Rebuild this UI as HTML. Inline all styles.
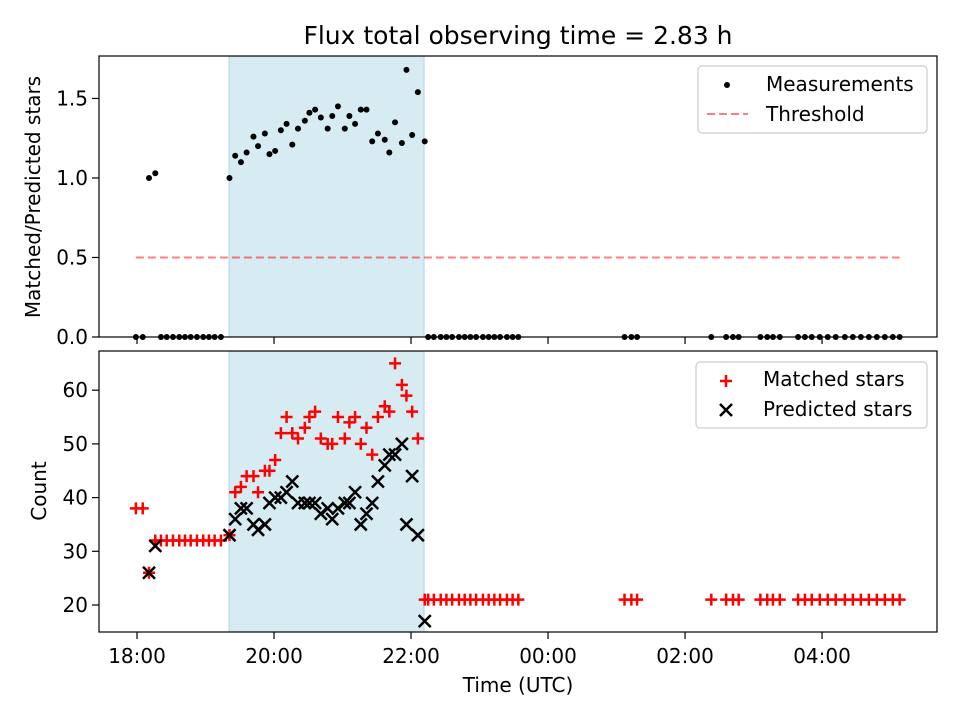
<!DOCTYPE html>
<html><head><meta charset="utf-8"><style>
html,body{margin:0;padding:0;background:#fff}
svg{display:block;font-family:"DejaVu Sans","Liberation Sans",sans-serif}
</style></head><body>
<svg id="fig" width="960" height="720" viewBox="0 0 960 720" xmlns="http://www.w3.org/2000/svg">
<rect width="960" height="720" fill="#fff"/>
<text x="518" y="44" font-size="25" text-anchor="middle">Flux total observing time = 2.83 h</text>
<g id="topPanel"></g>
<g id="botPanel"></g>
<text transform="translate(40,197) rotate(-90)" font-size="20" text-anchor="middle">Matched/Predicted stars</text>
<text transform="translate(46,491) rotate(-90)" font-size="20" text-anchor="middle">Count</text>
<text x="518" y="692" font-size="20" text-anchor="middle">Time (UTC)</text>
</svg>
<script>
// minutes since 18:00 UTC
const times = [-1,5,10.5,16, 21,26,31.5,37,42,47,52.5,58,63,68,73.5,
 81,86,91,96,102,106,112,116,121,126,131,136,141,147,151,156,161,167,171,176,182,186,191,196,201,206,211,217,221,226,232,236,241,246,252,
 255,260,266,271,276,282,287,292,297,303,308,313,318,324,329,334,
 427,433,438, 503,516,522,527, 546,552,557,563, 579,585,591,
 598,605,612,620,627,634,641,648,655,662,668];
const ratio = [0,0,1.00,1.03, 0,0,0,0,0,0,0,0,0,0,0,
 1.00,1.14,1.10,1.16,1.26,1.20,1.28,1.15,1.17,1.30,1.34,1.21,1.31,1.36,1.41,1.43,1.38,1.31,1.39,1.45,1.31,1.39,1.34,1.43,1.43,1.23,1.28,1.24,1.16,1.35,1.22,1.68,1.27,1.54,1.23,
 0,0,0,0,0,0,0,0,0,0,0,0,0,0,0,0, 0,0,0, 0,0,0,0, 0,0,0,0, 0,0,0, 0,0,0,0,0,0,0,0,0,0,0];
const matched = [38,38,26,32, 32,32,32,32,32,32,32,32,32,32,32,
 33,41,42,44,44,41,45,45,47,52,55,52,51,53,55,56,51,50,50,55,51,54,55,50,53,48,55,57,56,65,61,59,56,51,21,
 21,21,21,21,21,21,21,21,21,21,21,21,21,21,21,21, 21,21,21, 21,21,21,21, 21,21,21,21, 21,21,21, 21,21,21,21,21,21,21,21,21,21,21];
const predicted = [null,null,26,31, null,null,null,null,null,null,null,null,null,null,null,
 33,36,38,38,35,34,35,39,40,40,41,43,39,39,39,39,37,38,36,38,39,39,41,35,37,39,43,46,48,48,50,35,44,33,17,
 null,null,null,null,null,null,null,null,null,null,null,null,null,null,null,null, null,null,null, null,null,null,null, null,null,null,null, null,null,null, null,null,null,null,null,null,null,null,null,null,null];
const threshold = [0.5];
const observingSpan = [80.6, 251.4];
const xTickVals = [0,120,240,360,480,600];
const xTickLabels = ["18:00","20:00","22:00","00:00","02:00","04:00"];
const topTicks = [0,0.5,1.0,1.5];
const botTicks = [20,30,40,50,60];

const NS="http://www.w3.org/2000/svg";
const X0=99,X1=937, XMIN=-33.3, XMAX=700.7;
const sx=v=>X0+(v-XMIN)/(XMAX-XMIN)*(X1-X0);
const PT={y0:56,y1:337,min:0,max:1.767};
const PB={y0:351,y1:632,min:14.97,max:67.3};
const sy=(P,v)=>P.y1-(v-P.min)/(P.max-P.min)*(P.y1-P.y0);
function mk(parent,tag,attrs,text){const e=document.createElementNS(NS,tag);for(const k in attrs)e.setAttribute(k,attrs[k]);if(text!=null)e.textContent=text;parent.appendChild(e);return e;}

function frame(g,P,ticks,fmt,showXLabels){
  const sp=mk(g,'rect',{x:sx(observingSpan[0]),y:P.y0,width:sx(observingSpan[1])-sx(observingSpan[0]),height:P.y1-P.y0,fill:'#add8e6','fill-opacity':0.5,stroke:'#add8e6','stroke-width':1});
  
  
  ticks.forEach(v=>{const y=sy(P,v);
    const t=mk(g,'line',{x1:X0-7,x2:X0,y1:y,y2:y,stroke:'#000','stroke-width':1.2});
    
    
    const l=mk(g,'text',{x:X0-11,y:y+7,'font-size':20,'text-anchor':'end'},fmt(v));
    
    
  });
  xTickVals.forEach((v,i)=>{const x=sx(v);
    const t=mk(g,'line',{x1:x,x2:x,y1:P.y1,y2:P.y1+7,stroke:'#000','stroke-width':1.2});
    
    
    if(showXLabels){const l=mk(g,'text',{x:x,y:P.y1+31,'font-size':20,'text-anchor':'middle'},xTickLabels[i]);
      
      }
  });
}
function border(g,P){const r=mk(g,'rect',{x:X0,y:P.y0,width:X1-X0,height:P.y1-P.y0,fill:'none',stroke:'#000','stroke-width':1.2});
  
  }

const topG=document.getElementById('topPanel');
frame(topG,PT,topTicks,v=>v.toFixed(1),false);
const tmin=Math.min(...times),tmax=Math.max(...times);
const th=mk(topG,'line',{x1:sx(tmin),x2:sx(tmax),y1:sy(PT,threshold[0]),y2:sy(PT,threshold[0]),stroke:'#ff0000','stroke-opacity':0.5,'stroke-width':2,'stroke-dasharray':'8,4'});


times.forEach((t,i)=>{const c=mk(topG,'circle',{cx:sx(t),cy:sy(PT,ratio[i]),r:3,fill:'#000'});
  
  });
border(topG,PT);

const botG=document.getElementById('botPanel');
frame(botG,PB,botTicks,v=>String(v),true);
function plus(g,x,y){const p=mk(g,'path',{d:`M${x-6},${y}H${x+6}M${x},${y-6}V${y+6}`,stroke:'#ff0000','stroke-width':2.5});
  
  }
function cross(g,x,y){const p=mk(g,'path',{d:`M${x-6},${y-6}L${x+6},${y+6}M${x-6},${y+6}L${x+6},${y-6}`,stroke:'#000','stroke-width':2.5});
  
  }
times.forEach((t,i)=>plus(botG,sx(t),sy(PB,matched[i])));
times.forEach((t,i)=>{if(predicted[i]!=null)cross(botG,sx(t),sy(PB,predicted[i]));});
border(botG,PB);

const lg1=mk(topG,'g',{});


mk(lg1,'rect',{x:698,y:66,width:229,height:67,rx:4,fill:'#fff','fill-opacity':0.8,stroke:'#ccc','stroke-width':1.2});
mk(lg1,'circle',{cx:727,cy:85,r:3,fill:'#000'});
mk(lg1,'text',{x:766,y:91,'font-size':20},'Measurements');
mk(lg1,'line',{x1:707,x2:748,y1:114,y2:114,stroke:'#ff0000','stroke-opacity':0.5,'stroke-width':2,'stroke-dasharray':'8,4'});
mk(lg1,'text',{x:766,y:121,'font-size':20},'Threshold');

const lg2=mk(botG,'g',{});


mk(lg2,'rect',{x:696,y:362,width:231,height:66,rx:4,fill:'#fff','fill-opacity':0.8,stroke:'#ccc','stroke-width':1.2});
plus(lg2,726,381);
mk(lg2,'text',{x:763,y:386,'font-size':20},'Matched stars');
cross(lg2,726,410);
mk(lg2,'text',{x:763,y:416,'font-size':20},'Predicted stars');
</script>
</body></html>
